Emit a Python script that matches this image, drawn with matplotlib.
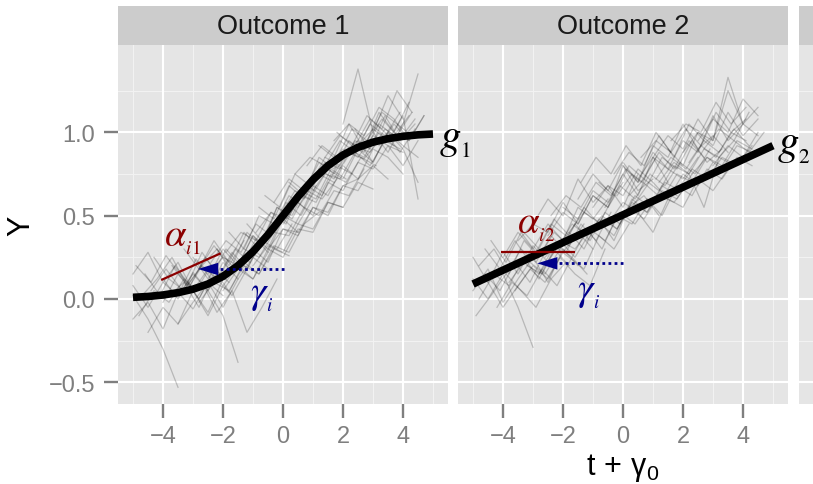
import matplotlib
matplotlib.use("Agg")
import matplotlib.pyplot as plt
from matplotlib.patches import Rectangle
import numpy as np

plt.rcParams['font.family'] = ['Liberation Sans', 'DejaVu Sans']
plt.rcParams['mathtext.fontset'] = 'custom'
plt.rcParams['mathtext.rm'] = 'Liberation Sans'
plt.rcParams['mathtext.it'] = 'Liberation Sans:italic'
plt.rcParams['mathtext.bf'] = 'Liberation Sans:bold'

# ---------------- data ----------------
panel_titles = ['Outcome 1', 'Outcome 2']
x_ticks = [-4, -2, 0, 2, 4]
x_tick_labels = ['\u22124', '\u22122', '0', '2', '4']
y_ticks = [-0.5, 0.0, 0.5, 1.0]
y_tick_labels = ['\u22120.5', '0.0', '0.5', '1.0']
x_minor = [-5, -3, -1, 1, 3, 5]
y_minor = [-0.25, 0.25, 0.75, 1.25]
obs_step = 0.5

g1_t = [-5.0, -4.5, -4.0, -3.5, -3.0, -2.5, -2.0, -1.5, -1.0, -0.5, 0.0,
        0.5, 1.0, 1.5, 2.0, 2.5, 3.0, 3.5, 4.0, 4.5, 5.0]
g1_y = [0.010, 0.015, 0.024, 0.038, 0.059, 0.090, 0.136, 0.200, 0.284, 0.386, 0.500,
        0.614, 0.716, 0.800, 0.864, 0.910, 0.941, 0.962, 0.976, 0.985, 0.990]
g2_t = [-5.0, 5.0]
g2_y = [0.09, 0.92]

# subject trajectories: (first observation time, observed values every obs_step)
outcome1_traj = [
    (-5.0, [0.08, -0.05, 0.10, 0.02, 0.15, 0.05, 0.22, 0.12]),
    (-4.8, [-0.10, 0.05, -0.02, 0.12, 0.00, 0.18, 0.10]),
    (-4.6, [0.15, 0.02, 0.20, 0.08, 0.25, 0.14, 0.30, 0.22]),
    (-5.0, [-0.12, -0.02, -0.18, 0.04, -0.06, 0.10, 0.02]),
    (-4.4, [0.05, 0.18, 0.06, 0.24, 0.12, 0.30, 0.20, 0.36]),
    (-4.9, [0.20, 0.10, 0.26, 0.14, 0.05, 0.20, 0.12]),
    (-5.0, [0.02, -0.12, -0.30, -0.53]),
    (-3.8, [0.02, 0.10, -0.05, 0.14, 0.04, 0.22, 0.15, 0.30, 0.26]),
    (-4.0, [0.12, 0.00, 0.16, 0.05, -0.10, -0.38]),
    (-3.2, [0.05, 0.20, 0.12, 0.28, 0.18, 0.35, 0.30, 0.45]),
    (-3.0, [0.25, 0.12, 0.30, 0.20, 0.38, 0.28, 0.48, 0.40]),
    (-2.8, [-0.02, 0.10, 0.05, 0.20, 0.15, 0.32, 0.28, 0.45, 0.52]),
    (-2.5, [0.15, 0.25, 0.20, 0.38, 0.30, 0.50, 0.45, 0.60]),
    (-2.2, [0.30, 0.20, 0.40, 0.32, 0.55, 0.48, 0.65, 0.60, 0.72]),
    (-2.0, [0.05, 0.18, 0.12, 0.30, 0.25, 0.42, 0.40, 0.58, 0.55]),
    (-1.8, [0.40, 0.30, 0.50, 0.45, 0.62, 0.55, 0.75, 0.70]),
    (-1.5, [0.18, 0.30, 0.22, 0.42, 0.38, 0.55, 0.50, 0.68, 0.72, 0.80]),
    (-1.2, [0.45, 0.35, 0.55, 0.50, 0.68, 0.62, 0.80, 0.75]),
    (-1.0, [0.20, 0.32, 0.28, 0.45, 0.42, 0.58, 0.55, 0.70, 0.66]),
    (-0.8, [0.55, 0.48, 0.68, 0.60, 0.78, 0.72, 0.88, 0.84, 0.95]),
    (-0.5, [0.30, 0.42, 0.40, 0.55, 0.52, 0.68, 0.65, 0.80, 0.72]),
    (-0.3, [0.58, 0.72, 0.65, 0.82, 0.75, 0.90, 0.85, 1.00, 0.92]),
    (0.0, [0.45, 0.58, 0.50, 0.70, 0.65, 0.82, 0.78, 0.92, 0.88]),
    (0.2, [0.70, 0.62, 0.85, 0.78, 0.95, 0.88, 1.05, 0.98, 1.10]),
    (0.5, [0.55, 0.68, 0.62, 0.80, 0.72, 0.90, 0.85, 0.75]),
    (0.8, [0.80, 0.92, 0.85, 1.02, 0.95, 1.12, 1.05, 0.98]),
    (1.0, [0.65, 0.78, 0.72, 0.90, 0.82, 1.00, 0.92, 0.85]),
    (1.2, [0.92, 0.85, 1.05, 0.98, 1.15, 1.08, 0.95, 1.10]),
    (1.5, [0.78, 0.90, 0.85, 0.98, 0.92, 0.80, 0.95]),
    (1.8, [1.00, 0.92, 1.10, 1.02, 1.25, 1.12]),
    (2.0, [0.88, 0.95, 0.82, 1.00, 0.90, 0.70]),
    (2.0, [1.05, 1.38, 1.00, 1.22, 1.08]),
    (2.5, [0.92, 1.02, 0.95, 1.10, 0.60]),
    (3.0, [1.00, 0.88, 1.05, 1.35]),
    (2.8, [0.95, 1.08, 0.98, 1.12]),
    (-5.0, [0.15, 0.28, 0.10, 0.22, 0.05, 0.18]),
    (-4.7, [0.02, 0.12, 0.25, 0.08, 0.20, 0.30, 0.15]),
    (-4.5, [-0.20, -0.05, -0.15, 0.05, -0.08, 0.12]),
    (-4.3, [0.25, 0.12, 0.05, 0.18, 0.32, 0.20, 0.35]),
    (-4.0, [-0.02, 0.15, 0.05, -0.10, 0.08, 0.20, 0.12, 0.28]),
    (-3.7, [0.20, 0.08, 0.28, 0.15, 0.02, 0.18, 0.35]),
    (-3.5, [-0.15, -0.02, 0.10, -0.05, 0.12, 0.25, 0.18]),
    (-3.3, [0.30, 0.18, 0.35, 0.22, 0.40, 0.30, 0.50]),
    (-2.7, [0.10, -0.08, 0.05, -0.20, -0.05, 0.12]),
    (-2.4, [0.22, 0.35, 0.28, 0.45, 0.38, 0.58, 0.50, 0.68]),
    (-1.9, [0.28, 0.40, 0.35, 0.52, 0.45, 0.65, 0.60, 0.78, 0.72]),
    (-1.3, [0.30, 0.25, 0.40, 0.38, 0.55, 0.50, 0.65, 0.62, 0.78]),
    (-0.9, [0.40, 0.52, 0.48, 0.62, 0.58, 0.75, 0.70, 0.85, 0.80]),
    (-0.6, [0.62, 0.55, 0.75, 0.68, 0.85, 0.80, 0.95, 0.90]),
    (-0.1, [0.50, 0.65, 0.60, 0.75, 0.72, 0.88, 0.80, 0.95, 0.90]),
    (0.4, [0.75, 0.85, 0.80, 0.95, 0.88, 1.05, 0.98, 1.12]),
    (0.9, [0.70, 0.82, 0.78, 0.92, 0.88, 1.02, 0.96, 1.08]),
    (1.4, [0.85, 0.98, 0.92, 1.08, 1.00, 0.88, 1.02]),
    (1.7, [0.95, 1.05, 0.90, 1.12, 1.00, 1.18]),
    (2.4, [1.02, 0.90, 1.10, 0.95, 1.05]),
    (3.2, [0.92, 1.05, 0.95, 1.10]),
]

outcome2_traj = [
    (-5.0, [0.05, 0.18, -0.02, 0.12, 0.25, 0.10, 0.30, 0.20]),
    (-4.9, [-0.10, 0.02, 0.15, 0.05, -0.05, 0.12, 0.22]),
    (-4.8, [0.20, 0.30, 0.15, 0.35, 0.25, 0.40, 0.32, 0.45]),
    (-4.5, [0.10, -0.05, 0.08, 0.20, 0.12, 0.28, 0.40, 0.30]),
    (-4.6, [0.30, 0.18, 0.35, 0.22, 0.15, 0.30, 0.45]),
    (-5.0, [0.12, 0.00, 0.15, -0.05, -0.29]),
    (-4.0, [0.25, 0.40, 0.30, 0.45, 0.35, 0.55, 0.48, 0.60]),
    (-3.8, [0.10, 0.22, 0.15, 0.32, 0.25, 0.18, 0.38, 0.30, 0.45]),
    (-3.5, [0.35, 0.45, 0.40, 0.58, 0.45, 0.62, 0.55, 0.70]),
    (-3.2, [0.20, 0.15, 0.32, 0.25, 0.42, 0.30, 0.50, 0.45, 0.60]),
    (-3.0, [0.45, 0.60, 0.50, 0.72, 0.58, 0.68, 0.55, 0.75]),
    (-2.8, [0.15, 0.28, 0.40, 0.30, 0.48, 0.35, 0.55, 0.62, 0.50]),
    (-2.5, [0.38, 0.52, 0.45, 0.62, 0.55, 0.80, 0.65, 0.72]),
    (-2.2, [0.30, 0.45, 0.38, 0.50, 0.42, 0.60, 0.52, 0.68, 0.62]),
    (-2.0, [0.55, 0.48, 0.65, 0.58, 0.75, 0.62, 0.85, 0.70]),
    (-1.8, [0.40, 0.52, 0.46, 0.38, 0.55, 0.48, 0.62, 0.58, 0.70]),
    (-1.5, [0.60, 0.75, 0.65, 0.82, 0.70, 0.88, 0.78, 0.72, 0.85]),
    (-1.2, [0.35, 0.48, 0.42, 0.58, 0.52, 0.65, 0.60, 0.75]),
    (-1.0, [0.55, 0.68, 0.62, 0.78, 0.70, 0.60, 0.75, 0.68, 0.82]),
    (-0.8, [0.70, 0.62, 0.80, 0.72, 0.88, 0.78, 0.95, 0.85]),
    (-0.5, [0.45, 0.58, 0.52, 0.40, 0.60, 0.55, 0.72, 0.65, 0.78]),
    (-0.2, [0.62, 0.75, 0.68, 0.85, 0.78, 0.95, 0.82, 0.90]),
    (0.0, [0.80, 0.70, 0.92, 0.85, 1.05, 0.90, 0.98, 0.88]),
    (0.3, [0.55, 0.68, 0.60, 0.75, 0.70, 0.85, 0.78, 0.92, 0.88]),
    (0.5, [0.72, 0.85, 0.78, 0.95, 0.88, 1.10, 0.95, 1.05]),
    (0.8, [0.60, 0.50, 0.68, 0.62, 0.78, 0.72, 0.85, 0.80]),
    (1.0, [0.85, 0.98, 0.90, 1.08, 0.95, 1.33, 1.05, 0.98]),
    (1.2, [0.70, 0.82, 0.75, 0.90, 0.85, 0.95, 0.88, 1.00]),
    (1.5, [0.90, 0.80, 1.00, 0.92, 1.12, 0.98, 1.08]),
    (1.8, [0.65, 0.78, 0.72, 0.85, 0.80, 0.92]),
    (2.0, [0.88, 1.00, 0.95, 1.25, 1.05, 1.15]),
    (2.3, [0.75, 0.85, 0.80, 0.95, 0.90]),
    (2.5, [0.95, 1.08, 1.00, 1.20, 1.10]),
    (3.0, [0.80, 0.92, 0.85, 1.00]),
    (-5.0, [0.25, 0.10, 0.28, 0.15, 0.32, 0.22]),
    (-4.8, [0.00, 0.15, 0.08, 0.25, 0.12, 0.30, 0.20]),
    (-4.6, [0.15, 0.05, 0.22, 0.10, 0.28, 0.35, 0.25, 0.40]),
    (-4.4, [0.35, 0.22, 0.40, 0.28, 0.45, 0.38]),
    (-4.2, [-0.05, 0.10, 0.02, 0.18, 0.08, 0.25, 0.15]),
    (-3.9, [0.15, 0.30, 0.22, 0.38, 0.28, 0.45, 0.35, 0.52]),
    (-3.6, [0.05, 0.18, 0.10, 0.25, 0.15, 0.08, 0.30]),
    (-3.3, [0.40, 0.30, 0.48, 0.38, 0.55, 0.45, 0.62]),
    (-2.6, [0.25, 0.35, 0.30, 0.42, 0.35, 0.52, 0.45, 0.58]),
    (-2.4, [0.50, 0.62, 0.55, 0.70, 0.62, 0.78, 0.70, 0.85]),
    (-1.6, [0.45, 0.35, 0.52, 0.45, 0.62, 0.55, 0.70, 0.65]),
    (-1.4, [0.70, 0.85, 0.75, 0.92, 0.80, 1.00, 0.88]),
    (-0.6, [0.55, 0.68, 0.60, 0.75, 0.68, 0.82, 0.75, 0.90]),
    (-0.3, [0.75, 0.88, 0.80, 0.98, 0.85, 1.05, 0.95]),
    (0.2, [0.62, 0.72, 0.65, 0.80, 0.75, 0.55, 0.85, 0.80]),
    (0.6, [0.85, 0.95, 0.88, 1.02, 0.92, 1.12, 1.00, 1.08]),
    (1.1, [0.72, 0.85, 0.78, 0.92, 0.85, 1.00, 0.95]),
    (1.6, [0.95, 1.05, 1.00, 1.18, 1.05, 1.15]),
    (2.2, [0.82, 0.95, 0.88, 1.02, 0.92]),
    (2.7, [0.90, 1.02, 0.95, 1.12]),
]

# annotation anchors (data units of each panel)
alpha_seg1 = ([-4.06, -2.08], [0.114, 0.274])
alpha_seg2 = ([-4.07, -1.60], [0.28, 0.28])
gamma_arrow1 = (0.03, -2.83, 0.18)
gamma_arrow2 = (0.0, -2.86, 0.214)

# ---------------- figure ----------------
W, H = 813, 485
fig = plt.figure(figsize=(W / 100, H / 100), dpi=100)
fig.patch.set_facecolor('white')

panel_w, panel_h = 330, 359
panel_top, strip_top = 46, 7
lefts = [118, 458, 799]
bottom = 1 - (panel_top + panel_h) / H

PANEL_BG = '#E5E5E5'
STRIP_BG = '#CCCCCC'
TICK_COL = '#7F7F7F'

axes = []
for i, lx in enumerate(lefts):
    ax = fig.add_axes([lx / W, bottom, panel_w / W, panel_h / H])
    ax.set_zorder(3 - i)
    ax.set_facecolor(PANEL_BG)
    ax.set_xlim(-5.5, 5.5)
    ax.set_ylim(-0.63, 1.524)
    for s in ax.spines.values():
        s.set_visible(False)
    for v in x_minor:
        ax.axvline(v, color='#F2F2F2', lw=0.8, zorder=0)
    for v in y_minor:
        ax.axhline(v, color='#F2F2F2', lw=0.8, zorder=0)
    for v in x_ticks:
        ax.axvline(v, color='white', lw=1.5, zorder=0.5)
    for v in y_ticks:
        ax.axhline(v, color='white', lw=1.5, zorder=0.5)
    ax.set_xticks(x_ticks)
    ax.set_yticks(y_ticks)
    ax.tick_params(length=10, width=1.7, color=TICK_COL, labelcolor=TICK_COL,
                   labelsize=17, pad=5)
    ax.tick_params(axis='y', pad=6.5)
    if i < 2:
        ax.set_xticklabels(x_tick_labels)
    else:
        ax.tick_params(axis='x', length=0, labelbottom=False)
    if i == 0:
        ax.set_yticklabels(y_tick_labels)
    else:
        ax.tick_params(axis='y', length=0, labelleft=False)
    # strip
    fig.add_artist(Rectangle((lx / W, 1 - panel_top / H), panel_w / W,
                             (panel_top - strip_top) / H,
                             transform=fig.transFigure, facecolor=STRIP_BG,
                             edgecolor='none', zorder=0))
    if i < 2:
        fig.text((lx + panel_w / 2) / W, 1 - (panel_top + strip_top) / 2 / H,
                 panel_titles[i], ha='center', va='center', fontsize=19.5,
                 color='#1A1A1A')
    axes.append(ax)

ax1, ax2, ax3 = axes

def draw_traj(ax, trajs):
    for t0, ys in trajs:
        ts = t0 + obs_step * np.arange(len(ys))
        ax.plot(ts, ys, color='black', alpha=0.2, lw=0.9, zorder=2)

draw_traj(ax1, outcome1_traj)
draw_traj(ax2, outcome2_traj)

ax1.plot(g1_t, g1_y, color='black', lw=5.5, solid_capstyle='butt', zorder=4)
ax2.plot(g2_t, g2_y, color='black', lw=5.5, solid_capstyle='butt', zorder=4)

RED = '#8B0000'
NAVY = '#00008B'
math_kw = dict(math_fontfamily='stix', ha='center', va='center', zorder=7,
               clip_on=False)

for ax, seg, arr in [(ax1, alpha_seg1, gamma_arrow1), (ax2, alpha_seg2, gamma_arrow2)]:
    ax.plot(seg[0], seg[1], color=RED, lw=1.6, zorder=5, solid_capstyle='butt')
    x_start, x_tip, ya = arr
    ax.plot([x_start, x_tip + 0.6], [ya, ya], color=NAVY, lw=2.0, ls=(0, (1, 1.2)),
            zorder=5)
    ax.annotate('', xy=(x_tip, ya), xytext=(x_tip + 0.7, ya),
                arrowprops=dict(arrowstyle='-|>,head_length=1.45,head_width=0.45',
                                color=NAVY, lw=0.01, shrinkA=0, shrinkB=0,
                                mutation_scale=10), zorder=6)

# annotation labels (base symbol with a small, lowered italic subscript)
ax1.text(-3.37, 0.366, r'$\alpha_{{}_{\mathit{i1}}}$', color=RED, fontsize=28, **math_kw)
ax2.text(-2.88, 0.444, r'$\alpha_{{}_{\mathit{i2}}}$', color=RED, fontsize=28, **math_kw)
ax1.text(-0.72, 0.021, r'$\gamma_{{}_{i}}$', color=NAVY, fontsize=28, **math_kw)
ax2.text(-1.14, 0.042, r'$\gamma_{{}_{i}}$', color=NAVY, fontsize=28, **math_kw)
ax1.text(5.73, 0.96, r'$g_{{}_{\mathit{1}}}$', color='black', fontsize=31, **math_kw)
ax2.text(5.69, 0.924, r'$g_{{}_{\mathit{2}}}$', color='black', fontsize=31, **math_kw)

# axis titles
fig.text(21.5 / W, 1 - 226 / H, 'Y', rotation=90, ha='center', va='center',
         fontsize=22, color='black')
fig.text(623 / W, 1 - 468 / H, r'$\mathregular{t\,+\,\gamma_0}$', ha='center',
         va='center', fontsize=22, color='black')

fig.savefig('out.png', dpi=100)
